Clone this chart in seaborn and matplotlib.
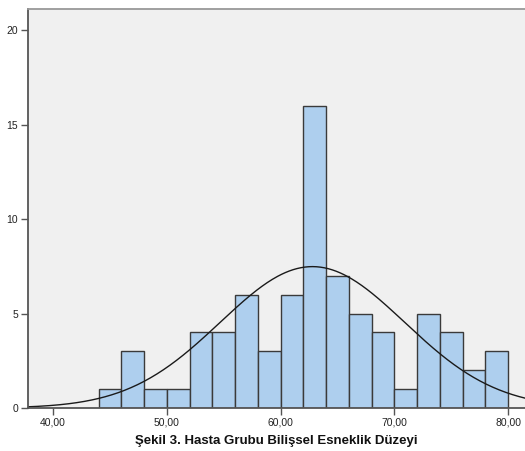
import numpy as np
import pandas as pd
import matplotlib
matplotlib.use("Agg")
import matplotlib.pyplot as plt
import seaborn as sns

# Data
bin_starts = [44, 46, 48, 50, 52, 54, 56, 58, 60, 62, 64, 66, 68, 70, 72, 74, 76, 78]
counts = [1, 3, 1, 1, 4, 4, 6, 3, 6, 16, 7, 5, 4, 1, 5, 4, 2, 3]
bin_width = 2
x_ticks = [40, 50, 60, 70, 80]
x_tick_labels = ["40,00", "50,00", "60,00", "70,00", "80,00"]
y_ticks = [0, 5, 10, 15, 20]
fit_mean = 62.8
fit_sd = 8.1
title = "Şekil 3. Hasta Grubu Bilişsel Esneklik Düzeyi"

sns.set_style("white")
plt.rcParams["font.family"] = ["Liberation Sans", "DejaVu Sans"]

df = pd.DataFrame({"x": [b + bin_width / 2 for b in bin_starts], "n": counts})
edges = bin_starts + [bin_starts[-1] + bin_width]

fig = plt.figure(figsize=(5.25, 4.51), dpi=100)
ax = fig.add_axes([0.0533, 0.0953, 0.96, 0.8837])
ax.set_facecolor("#f0f0f0")

sns.histplot(data=df, x="x", weights="n", bins=edges, ax=ax,
             color="#aecfee", alpha=1.0, edgecolor="#3a3a3a", linewidth=1.0)

N = sum(counts)
xs = np.linspace(37.5, 83, 400)
ys = N * bin_width / (fit_sd * np.sqrt(2 * np.pi)) * np.exp(-0.5 * ((xs - fit_mean) / fit_sd) ** 2)
sns.lineplot(x=xs, y=ys, ax=ax, color="#1a1a1a", linewidth=1.0)

ax.set_xlim(37.8, 82.1)
ax.set_ylim(0, 21.1)
ax.set_xticks(x_ticks)
ax.set_xticklabels(x_tick_labels)
ax.set_yticks(y_ticks)
ax.set_xlabel("")
ax.set_ylabel("")
ax.tick_params(axis="both", direction="out", length=5, width=1.0, color="#555555",
               labelsize=7.5, labelcolor="#222222", pad=2)
ax.tick_params(axis="both", which="both", bottom=True, left=True)

for s in ["left", "bottom", "top"]:
    ax.spines[s].set_visible(True)
    ax.spines[s].set_color("#555555")
    ax.spines[s].set_linewidth(1.3)
ax.spines["right"].set_visible(False)
ax.spines["top"].set_color("#999999")

fig.text(0.526, 0.022, title, ha="center", va="center", fontsize=9.5, fontweight="bold",
         color="#111111")

fig.savefig("out.png", dpi=100)
